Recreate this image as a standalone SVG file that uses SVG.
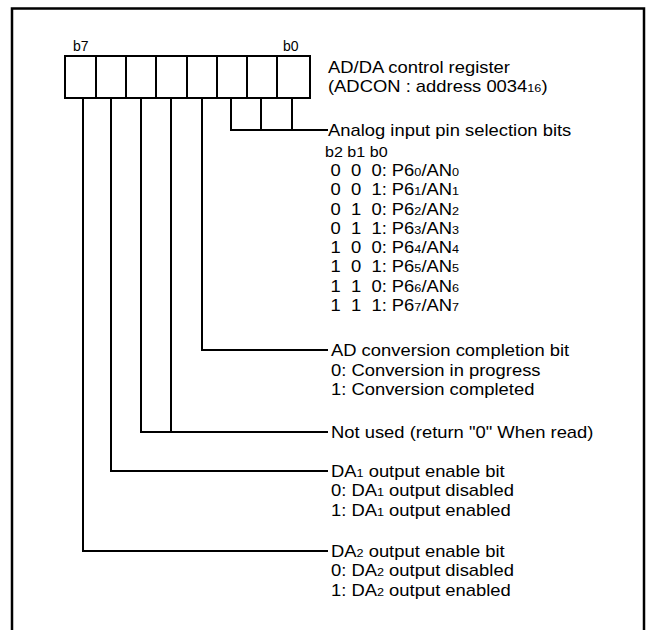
<svg xmlns="http://www.w3.org/2000/svg" width="647" height="630" viewBox="0 0 647 630">
<style>
text{font-family:"Liberation Sans",Arial,sans-serif;fill:#000;white-space:pre}
.m{font-size:16px}
.s{font-size:14px}
.sub{font-size:11px}
.ln{fill:none;stroke:#000;stroke-width:2}
</style>
<rect x="12" y="8.5" width="632" height="700" fill="#fff" stroke="#000" stroke-width="2.5"/>
<g id="register">
<rect x="65" y="56" width="245" height="42" fill="#fff" stroke="#000" stroke-width="2"/>
<path class="ln" d="M96 56V98M126 56V98M156 56V98M187 56V98M217 56V98M247 56V98M277 56V98"/>
<text class="s" x="73" y="51">b7</text>
<text class="s" x="283" y="51">b0</text>
</g>
<g id="connectors">
<path class="ln" d="M292 98V130M261 98V130M231 98V130H328"/>
<path class="ln" d="M202 98V350H328"/>
<path class="ln" d="M171 98V432M141 98V432H328"/>
<path class="ln" d="M111 98V471H328"/>
<path class="ln" d="M83 98V551H328"/>
</g>
<g transform="scale(1.15 1)">
<g id="register-label">
<text class="m" x="285.2" y="73">AD/DA control register</text>
<text class="m" x="285.2" y="92">(ADCON : address 0034<tspan class="sub">16</tspan>)</text>
</g>
<g id="analog">
<text class="m" x="285.2" y="136">Analog input pin selection bits</text>
<text class="s" x="282.6" y="157">b2 b1 b0</text>
<text class="m" x="287.4" y="176" xml:space="preserve">0  0  0: P6<tspan class="sub">0</tspan>/AN<tspan class="sub">0</tspan></text>
<text class="m" x="287.4" y="195.3" xml:space="preserve">0  0  1: P6<tspan class="sub">1</tspan>/AN<tspan class="sub">1</tspan></text>
<text class="m" x="287.4" y="214.6" xml:space="preserve">0  1  0: P6<tspan class="sub">2</tspan>/AN<tspan class="sub">2</tspan></text>
<text class="m" x="287.4" y="233.9" xml:space="preserve">0  1  1: P6<tspan class="sub">3</tspan>/AN<tspan class="sub">3</tspan></text>
<text class="m" x="287.4" y="253.2" xml:space="preserve">1  0  0: P6<tspan class="sub">4</tspan>/AN<tspan class="sub">4</tspan></text>
<text class="m" x="287.4" y="272.5" xml:space="preserve">1  0  1: P6<tspan class="sub">5</tspan>/AN<tspan class="sub">5</tspan></text>
<text class="m" x="287.4" y="291.8" xml:space="preserve">1  1  0: P6<tspan class="sub">6</tspan>/AN<tspan class="sub">6</tspan></text>
<text class="m" x="287.4" y="311.1" xml:space="preserve">1  1  1: P6<tspan class="sub">7</tspan>/AN<tspan class="sub">7</tspan></text>
</g>
<g id="adc">
<text class="m" x="287.8" y="356.5">AD conversion completion bit</text>
<text class="m" x="287.8" y="376">0: Conversion in progress</text>
<text class="m" x="287.8" y="395.5">1: Conversion completed</text>
</g>
<g id="notused">
<text class="m" x="287.8" y="438">Not used (return "0" When read)</text>
</g>
<g id="da1">
<text class="m" x="287.8" y="477">DA<tspan class="sub">1</tspan> output enable bit</text>
<text class="m" x="287.8" y="496.5">0: DA<tspan class="sub">1</tspan> output disabled</text>
<text class="m" x="287.8" y="516">1: DA<tspan class="sub">1</tspan> output enabled</text>
</g>
<g id="da2">
<text class="m" x="287.8" y="557">DA<tspan class="sub">2</tspan> output enable bit</text>
<text class="m" x="287.8" y="576.5">0: DA<tspan class="sub">2</tspan> output disabled</text>
<text class="m" x="287.8" y="596">1: DA<tspan class="sub">2</tspan> output enabled</text>
</g>
</g>
</svg>
